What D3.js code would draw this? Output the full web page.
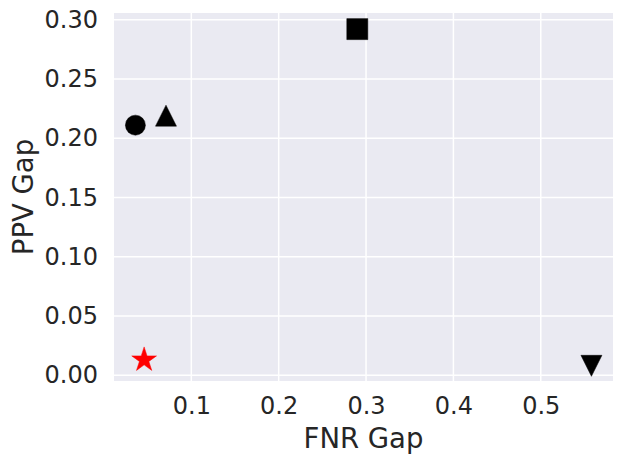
<!DOCTYPE html>
<html>
<head>
<meta charset="utf-8">
<script src="https://cdn.jsdelivr.net/npm/d3@7.9.0/dist/d3.min.js"></script>
<style>
  html, body { margin: 0; padding: 0; background: #fff; }
  svg { display: block; font-family: "DejaVu Sans", sans-serif; }
  .grid line { stroke: #fff; stroke-width: 1.5; }
  .tick text { fill: #262626; }
</style>
</head>
<body>
<div id="chart"></div>
<script>
// point markers, x = FNR gap, y = PPV gap
const markers = ['circle', 'triangleUp', 'square', 'triangleDown', 'star'];
const fnrGap = [0.036, 0.071, 0.290, 0.558, 0.046];
const ppvGap = [0.211, 0.219, 0.292, 0.008, 0.013];
const markerColors = ['#000', '#000', '#000', '#000', '#ff0000'];

const xTicks = [0.1, 0.2, 0.3, 0.4, 0.5];
const yTicks = [0.00, 0.05, 0.10, 0.15, 0.20, 0.25, 0.30];

const width = 623, height = 463;
const margin = { top: 13, right: 10, bottom: 82, left: 114 };

const svg = d3.select('#chart').append('svg')
  .attr('width', width)
  .attr('height', height);

const x = d3.scaleLinear()
  .domain([0.0115, 0.5827])
  .range([margin.left, width - margin.right]);
const y = d3.scaleLinear()
  .domain([-0.0048, 0.3056])
  .range([height - margin.bottom, margin.top]);

svg.append('rect')
  .attr('x', margin.left)
  .attr('y', margin.top)
  .attr('width', x.range()[1] - x.range()[0])
  .attr('height', y.range()[0] - y.range()[1])
  .attr('fill', '#eaeaf2');

// gridlines
const grid = svg.append('g').attr('class', 'grid');
grid.selectAll('.vx').data(xTicks).join('line')
  .attr('x1', d => x(d)).attr('x2', d => x(d))
  .attr('y1', y.range()[1]).attr('y2', y.range()[0]);
grid.selectAll('.hy').data(yTicks).join('line')
  .attr('y1', d => y(d)).attr('y2', d => y(d))
  .attr('x1', x.range()[0]).attr('x2', x.range()[1]);

// axes (no tick marks, seaborn darkgrid style)
const xAxis = svg.append('g')
  .attr('transform', `translate(0, ${height - margin.bottom})`)
  .call(d3.axisBottom(x).tickValues(xTicks).tickFormat(d3.format('.1f')).tickSize(0).tickPadding(16));
const yAxis = svg.append('g')
  .attr('transform', `translate(${margin.left}, 0)`)
  .call(d3.axisLeft(y).tickValues(yTicks).tickFormat(d3.format('.2f')).tickSize(0).tickPadding(16));
[xAxis, yAxis].forEach(a => {
  a.select('.domain').remove();
  a.selectAll('text').attr('font-size', 24).attr('font-family', '"DejaVu Sans", sans-serif');
});
xAxis.selectAll('text').attr('dy', '0.71em');

// axis labels
svg.append('text')
  .attr('x', (x.range()[0] + x.range()[1]) / 2)
  .attr('y', 448)
  .attr('text-anchor', 'middle')
  .attr('font-size', 27.5)
  .attr('fill', '#262626')
  .text('FNR Gap');
svg.append('text')
  .attr('transform', `translate(33, ${(y.range()[0] + y.range()[1]) / 2}) rotate(-90)`)
  .attr('text-anchor', 'middle')
  .attr('font-size', 27.5)
  .attr('fill', '#262626')
  .text('PPV Gap');

// matplotlib-like marker shapes, drawn with half-size r
const shapes = {
  circle: r => ({ draw(ctx) { ctx.moveTo(r, 0); ctx.arc(0, 0, r, 0, 2 * Math.PI); } }),
  square: r => ({ draw(ctx) { ctx.rect(-r, -r, 2 * r, 2 * r); } }),
  triangleUp: r => ({ draw(ctx) { ctx.moveTo(0, -r); ctx.lineTo(r, r); ctx.lineTo(-r, r); ctx.closePath(); } }),
  triangleDown: r => ({ draw(ctx) { ctx.moveTo(0, r); ctx.lineTo(r, -r); ctx.lineTo(-r, -r); ctx.closePath(); } }),
  star: r => ({ draw(ctx) {
    const inner = r * 0.381966;
    for (let i = 0; i < 10; i++) {
      const rad = i % 2 === 0 ? r : inner;
      const a = -Math.PI / 2 + i * Math.PI / 5;
      const px = rad * Math.cos(a), py = rad * Math.sin(a);
      if (i === 0) ctx.moveTo(px, py); else ctx.lineTo(px, py);
    }
    ctx.closePath();
  } })
};
const halfSize = { circle: 10, square: 10.5, triangleUp: 10.5, triangleDown: 10.5, star: 13 };

const points = markers.map((m, i) => ({ m, fnr: fnrGap[i], ppv: ppvGap[i], color: markerColors[i] }));

svg.append('g').selectAll('path')
  .data(points)
  .join('path')
    .attr('transform', d => `translate(${x(d.fnr)}, ${y(d.ppv)})`)
    .attr('d', d => d3.symbol(shapes[d.m](halfSize[d.m]))())
    .attr('fill', d => d.color)
    .attr('stroke', d => d.color)
    .attr('stroke-width', 0.5);
</script>
</body>
</html>
